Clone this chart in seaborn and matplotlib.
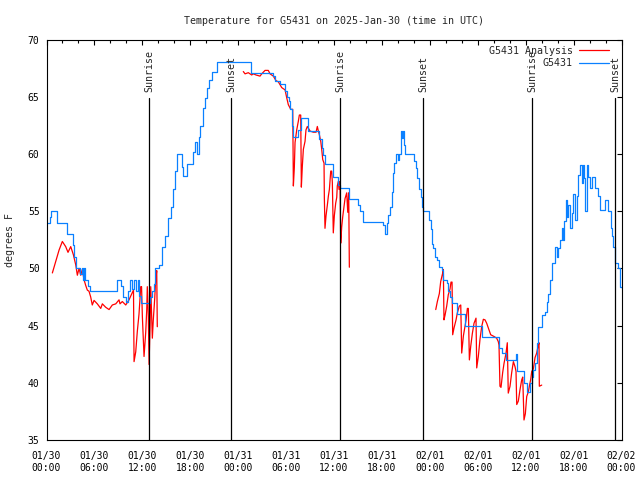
"""Temperature for G5431 with analysis overlay, sunrise/sunset markers"""

import numpy as np
import pandas as pd
import matplotlib
matplotlib.use("Agg")
import matplotlib.pyplot as plt
from matplotlib.lines import Line2D
import seaborn as sns

# hours after 2025-01-30 00:00 UTC
obs_hours = [0.0, 0.44, 0.60, 1.28, 2.53, 3.28, 3.48, 3.69, 4.19, 4.45, 4.61, 4.70, 4.82,
             5.20, 5.45, 8.79, 9.37, 9.58, 9.92, 10.14, 10.46, 10.71, 10.96, 11.21, 11.40,
             11.58, 11.80, 12.90, 13.21, 13.46, 13.62, 14.12, 14.46, 14.84, 15.25, 15.55,
             15.88, 16.09, 16.38, 16.93, 17.13, 17.63, 18.31, 18.59, 18.78, 19.06, 19.22,
             19.56, 19.85, 20.14, 20.39, 20.69, 21.31, 25.57, 28.32, 28.61, 29.24, 29.87,
             30.12, 30.37, 30.49, 30.70, 30.87, 31.53, 31.83, 32.78, 34.16, 34.46, 34.66,
             34.87, 35.91, 36.54, 36.75, 37.92, 39.01, 39.26, 39.67, 42.17, 42.42, 42.60,
             42.80, 43.01, 43.23, 43.43, 43.51, 43.73, 44.05, 44.20, 44.35, 44.52, 44.64,
             44.77, 44.93, 46.06, 46.23, 46.43, 46.64, 46.83, 46.98, 47.18, 47.93, 48.11,
             48.23, 48.43, 48.65, 48.94, 49.19, 49.49, 49.69, 50.11, 50.31, 50.53, 50.74,
             51.36, 52.40, 54.49, 56.66, 57.00, 57.54, 58.79, 58.95, 59.83, 60.13, 60.54,
             60.76, 60.96, 61.17, 61.38, 61.58, 62.01, 62.42, 62.64, 62.84, 63.05, 63.26,
             63.67, 63.89, 64.09, 64.30, 64.51, 64.64, 64.80, 65.05, 65.21, 65.34, 65.55,
             65.76, 65.96, 66.18, 66.39, 66.59, 66.80, 67.02, 67.14, 67.31, 67.47, 67.64,
             67.84, 68.06, 68.27, 68.68, 69.06, 69.31, 69.93, 70.35, 70.65, 70.81, 70.98,
             71.19, 71.60, 71.81, 72.0]
obs_temps = [54.0, 54.5, 55.0, 54.0, 53.0, 52.0, 51.0, 50.0, 49.5, 50.0, 49.0, 50.0, 49.0,
             48.5, 48.0, 49.0, 48.5, 47.5, 47.1, 48.0, 49.0, 48.2, 49.0, 48.0, 49.0,
             47.6, 47.0, 47.5, 48.0, 48.6, 50.0, 50.3, 51.9, 52.8, 54.4, 55.4,
             56.9, 58.5, 60.0, 58.9, 58.1, 59.1, 60.2, 61.0, 60.0, 61.5, 62.4,
             64.0, 64.9, 65.8, 66.5, 67.2, 68.0, 67.1, 66.8, 66.4, 66.1, 65.5,
             65.0, 64.6, 63.9, 62.4, 61.5, 62.1, 63.1, 62.0, 61.3, 60.5, 59.9,
             59.1, 58.0, 57.3, 57.0, 56.1, 55.5, 55.0, 54.05, 53.8, 53.0, 54.0,
             54.7, 55.4, 56.7, 58.3, 59.2, 60.0, 59.5, 60.0, 62.0, 61.4, 62.0,
             60.8, 60.0, 59.4, 58.8, 57.9, 56.9, 56.2, 55.4, 55.0, 54.25, 53.4,
             52.1, 51.8, 51.0, 50.75, 50.1, 49.9, 49.0, 48.7, 48.0, 47.5, 47.0,
             46.0, 45.0, 44.0, 43.0, 42.6, 42.0, 42.5, 41.0, 40.0, 39.2, 40.0,
             40.5, 41.1, 41.7, 43.5, 44.9, 45.9, 46.2, 47.1, 47.8, 49.0, 50.5,
             51.9, 51.0, 51.8, 52.5, 53.5, 52.5, 54.1, 56.0, 54.5, 55.5, 53.5,
             54.8, 56.5, 54.2, 56.3, 58.2, 59.0, 57.5, 59.0, 57.9, 55.0, 59.0,
             58.0, 57.0, 58.0, 57.0, 56.3, 55.1, 56.0, 55.0, 53.5, 52.8, 51.9,
             50.5, 50.0, 48.4, 48.3]

# analysis series, three separate runs
ana_hours_1 = [0.73, 1.15, 1.57, 1.98, 2.40, 2.69, 3.03, 3.36, 3.66, 3.86, 4.07, 4.28, 4.48,
               4.70, 4.91, 5.11, 5.32, 5.53, 5.73, 5.95, 6.36, 6.79, 6.99, 7.41, 7.83,
               8.24, 8.67, 9.08, 9.20, 9.49, 9.92, 10.33, 10.62, 10.89, 10.96, 11.17, 11.37,
               11.58, 11.80, 11.90, 12.00, 12.21, 12.42, 12.55, 12.62, 12.75, 12.84, 12.96,
               13.05, 13.25, 13.37, 13.55, 13.67, 13.80, 13.87]
ana_temps_1 = [49.6, 50.6, 51.6, 52.35, 51.9, 51.4, 51.9, 51.2, 50.3, 49.4, 50.0, 49.4, 49.9,
               49.0, 48.5, 48.1, 48.0, 47.5, 46.8, 47.2, 46.9, 46.5, 46.9, 46.6, 46.4,
               46.8, 46.9, 47.25, 46.9, 47.1, 46.8, 47.25, 47.7, 48.1, 41.85, 42.7, 44.5,
               46.0, 48.4, 48.4, 45.8, 42.3, 44.4, 46.4, 48.4, 45.8, 41.6, 45.0,
               48.4, 43.9, 45.5, 47.4, 49.0, 49.8, 44.9]
ana_hours_2 = [24.64, 24.86, 25.27, 25.69, 25.90, 26.23, 26.73, 26.95, 27.36, 27.77, 27.99,
               28.40, 28.74, 29.03, 29.45, 29.65, 29.87, 30.08, 30.28, 30.58, 30.83, 30.91,
               31.03, 31.12, 31.33, 31.53, 31.66, 31.83, 31.91, 32.03, 32.16, 32.37, 32.49,
               32.66, 33.00, 33.41, 33.75, 33.91, 34.04, 34.16, 34.34, 34.46, 34.59, 34.75,
               34.79, 34.87, 35.00, 35.16, 35.29, 35.42, 35.59, 35.71, 35.79, 35.91, 36.04,
               36.21, 36.34, 36.41, 36.54, 36.63, 36.75, 36.84, 36.96, 37.09, 37.25, 37.38,
               37.59, 37.72, 37.84, 37.92]
ana_temps_2 = [67.2, 67.0, 67.1, 66.9, 67.0, 66.9, 66.8, 67.0, 67.3, 67.3, 67.0,
               66.8, 66.4, 66.3, 65.8, 65.7, 65.6, 64.9, 64.3, 63.9, 63.9, 57.2,
               58.8, 61.0, 62.1, 62.85, 63.4, 63.4, 57.1, 58.9, 60.4, 61.1, 62.1,
               62.4, 62.0, 61.9, 61.9, 62.4, 62.0, 61.7, 61.1, 60.4, 59.5, 59.2,
               56.15, 53.5, 54.6, 55.5, 56.3, 56.9, 58.5, 58.5, 57.5, 53.1, 54.6,
               55.7, 56.2, 57.2, 57.6, 56.9, 57.6, 52.2, 53.6, 54.5, 55.4, 56.1,
               56.6, 54.9, 56.6, 50.1]
ana_hours_3 = [48.74, 48.94, 49.19, 49.36, 49.61, 49.69, 49.77, 49.90, 50.11, 50.31, 50.53,
               50.65, 50.78, 50.86, 51.03, 51.28, 51.44, 51.69, 51.87, 51.99, 52.20, 52.32,
               52.54, 52.70, 52.82, 52.95, 53.12, 53.32, 53.53, 53.78, 53.87, 54.07, 54.28,
               54.49, 54.70, 54.91, 55.12, 55.32, 55.62, 56.03, 56.37, 56.57, 56.66, 56.78,
               56.91, 57.12, 57.29, 57.54, 57.70, 57.82, 58.04, 58.25, 58.46, 58.67, 58.79,
               58.88, 59.08, 59.29, 59.50, 59.63, 59.79, 59.96, 60.13, 60.33, 60.46, 60.63,
               60.76, 60.96, 61.17, 61.38, 61.55, 61.67, 61.71, 62.01]
ana_temps_3 = [46.4, 47.1, 47.8, 48.85, 49.6, 49.9, 45.5, 45.9, 46.7, 47.7, 48.2,
               48.8, 48.8, 44.2, 44.8, 45.5, 46.1, 46.7, 46.8, 42.6, 44.1, 44.6,
               45.5, 46.5, 46.5, 42.0, 43.2, 44.3, 45.2, 45.65, 41.3, 42.3, 43.8,
               44.9, 45.55, 45.5, 45.2, 44.8, 44.2, 44.05, 43.9, 43.6, 43.3, 39.7,
               39.6, 40.9, 41.7, 42.6, 43.5, 39.1, 39.7, 40.9, 41.85, 41.4, 41.0,
               38.1, 38.4, 39.4, 40.25, 40.5, 36.75, 37.3, 38.8, 39.2, 39.7, 40.3,
               41.0, 41.2, 42.2, 42.6, 43.2, 43.5, 39.7, 39.8]

sun_hours = [12.87, 23.14, 36.80, 47.18, 60.83, 71.22]
sun_labels = ["Sunrise", "Sunset", "Sunrise", "Sunset", "Sunrise", "Sunset"]

tick_hours = list(range(0, 73, 6))
tick_labels = ["01/30\n00:00", "01/30\n06:00", "01/30\n12:00", "01/30\n18:00",
               "01/31\n00:00", "01/31\n06:00", "01/31\n12:00", "01/31\n18:00",
               "02/01\n00:00", "02/01\n06:00", "02/01\n12:00", "02/01\n18:00",
               "02/02\n00:00"]

RED = "#ff0000"
BLUE = "#0a80ff"

sns.set_style("white")
plt.rcParams["font.family"] = ["DejaVu Sans Mono"]
plt.rcParams["font.size"] = 7

obs = pd.DataFrame({"hour": obs_hours, "temp": obs_temps})
ana = pd.concat([
    pd.DataFrame({"hour": ana_hours_1, "temp": ana_temps_1, "run": 1}),
    pd.DataFrame({"hour": ana_hours_2, "temp": ana_temps_2, "run": 2}),
    pd.DataFrame({"hour": ana_hours_3, "temp": ana_temps_3, "run": 3}),
], ignore_index=True)

fig = plt.figure(figsize=(6.4, 4.8), dpi=100)
ax = fig.add_axes([0.0727, 0.0833, 0.8984, 0.8344])

sns.lineplot(data=ana, x="hour", y="temp", units="run", estimator=None, sort=False,
             color=RED, linewidth=0.9, ax=ax)
sns.lineplot(data=obs, x="hour", y="temp", estimator=None, sort=False,
             drawstyle="steps-post", color=BLUE, linewidth=0.9, ax=ax)

# sunrise / sunset markers
for h, lab in zip(sun_hours, sun_labels):
    ax.axvline(h, ymin=0, ymax=0.855, color="black", linewidth=0.9)
    ax.text(h, 0.868, lab, rotation=90, ha="center", va="bottom",
            transform=ax.get_xaxis_transform(), fontsize=7.2)

ax.set_xlim(0, 72)
ax.set_ylim(35, 70)
ax.set_xticks(tick_hours)
ax.set_xticklabels(tick_labels)
ax.set_xticks(np.arange(0, 73, 2), minor=True)
ax.set_yticks(np.arange(35, 71, 5))
ax.tick_params(which="both", direction="in", top=True, right=True, colors="black",
               width=0.8)
ax.tick_params(which="major", length=3.3)
ax.tick_params(which="minor", length=1.8)
ax.tick_params(axis="x", which="major", pad=8)
ax.tick_params(axis="y", which="major", pad=5)
for sp in ax.spines.values():
    sp.set_color("black")
    sp.set_linewidth(0.8)

ax.set_xlabel("")
ax.set_ylabel("")
fig.text(0.0156, 0.5, "degrees F", rotation=90, ha="center", va="center", fontsize=7.2)
ax.set_title("Temperature for G5431 on 2025-Jan-30 (time in UTC)", fontsize=7.2, pad=11)

handles = [Line2D([], [], color=RED, linewidth=0.9), Line2D([], [], color=BLUE, linewidth=0.9)]
ax.legend(handles, ["G5431 Analysis", "G5431"], loc="upper right", frameon=False,
          markerfirst=False, handlelength=3.0, handletextpad=0.6, labelspacing=0.25,
          borderaxespad=0.0, bbox_to_anchor=(0.985, 0.995), fontsize=7.2)

plt.savefig("out.png", dpi=100)
